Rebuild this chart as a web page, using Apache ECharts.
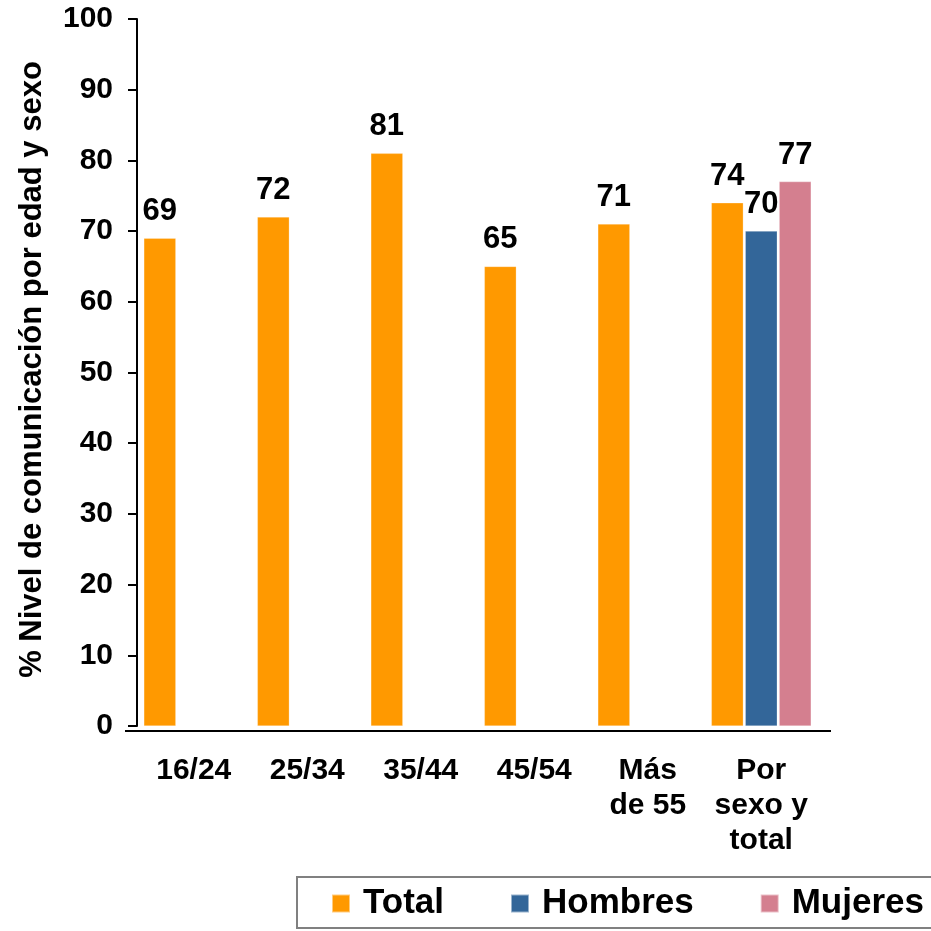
<!DOCTYPE html>
<html>
<head>
<meta charset="utf-8">
<script src="https://cdn.jsdelivr.net/npm/echarts@6/dist/echarts.min.js"></script>
<style>html,body{margin:0;padding:0;background:#fff}#c{width:931px;height:931px}</style>
</head>
<body>
<div id="c"></div>
<script>
var categories = ['16/24', '25/34', '35/44', '45/54', 'Más\nde 55', 'Por\nsexo y\ntotal'];
var totalValues = [69, 72, 81, 65, 71, 74];
var hombresValues = [null, null, null, null, null, 70];
var mujeresValues = [null, null, null, null, null, 77];
var yTicks = [0, 10, 20, 30, 40, 50, 60, 70, 80, 90, 100];
var seriesNames = ['Total', 'Hombres', 'Mujeres'];
var colors = ['#FF9900', '#336699', '#D47F8F'];
var yTitle = '% Nivel de comunicación por edad y sexo';

var FONT = '"Liberation Sans", Arial, sans-serif';
var chart = echarts.init(document.getElementById('c'), null, {renderer: 'canvas'});

function barSeries(name, data, color) {
  return {
    name: name, type: 'bar', data: data, barWidth: 32, barGap: '6%',
    itemStyle: {color: color, borderColor: 'rgba(255,255,255,0.5)', borderWidth: 0.5},
    label: {show: true, position: 'top', distance: 11, color: '#000',
            fontFamily: FONT, fontWeight: 'bold', fontSize: 31},
    emphasis: {disabled: true}
  };
}

chart.setOption({
  animation: false,
  backgroundColor: '#fff',
  color: colors,
  grid: {left: 137, right: 113, top: 19, bottom: 205, containLabel: false},
  legend: {
    left: 297, top: 877, width: 700, orient: 'horizontal',
    data: seriesNames,
    icon: 'rect', itemWidth: 18, itemHeight: 18, itemGap: 66,
    padding: [9, 40, 7, 34],
    borderColor: '#808080', borderWidth: 2,
    textStyle: {fontFamily: FONT, fontWeight: 'bold', fontSize: 35, color: '#000', padding: [0,0,0,8]}
  },
  xAxis: {
    type: 'category', data: categories, boundaryGap: true,
    axisLine: {show: false},
    axisTick: {show: false},
    axisLabel: {color: '#000', fontFamily: FONT, fontWeight: 'bold', fontSize: 30,
                lineHeight: 35, margin: 27, interval: 0}
  },
  yAxis: {
    type: 'value', min: 0, max: 100, interval: 10,
    name: yTitle, nameLocation: 'middle', nameGap: 89, nameRotate: 90,
    nameTextStyle: {color: '#000', fontFamily: FONT, fontWeight: 'bold', fontSize: 31, padding: [0, 0, 0, 6]},
    axisLine: {show: true, lineStyle: {color: '#000', width: 2}},
    axisTick: {show: true, inside: false, length: 9, lineStyle: {color: '#000', width: 2}},
    axisLabel: {color: '#000', fontFamily: FONT, fontWeight: 'bold', fontSize: 30, margin: 24},
    splitLine: {show: false}
  },
  graphic: [{
    type: 'line', shape: {x1: 125, y1: 731, x2: 831, y2: 731},
    style: {stroke: '#000', lineWidth: 2}, z: 10
  }],
  series: [
    barSeries(seriesNames[0], totalValues, colors[0]),
    barSeries(seriesNames[1], hombresValues, colors[1]),
    barSeries(seriesNames[2], mujeresValues, colors[2])
  ]
});
</script>
</body>
</html>
